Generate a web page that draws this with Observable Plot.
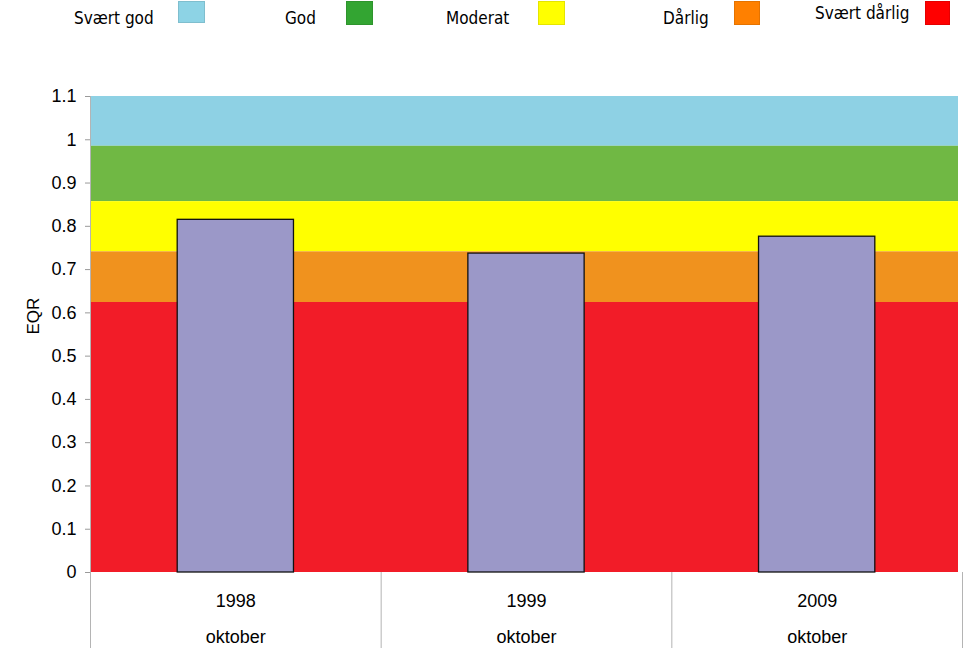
<!DOCTYPE html>
<html>
<head>
<meta charset="utf-8">
<script src="https://cdn.jsdelivr.net/npm/d3@7"></script>
<script src="https://cdn.jsdelivr.net/npm/@observablehq/plot@0.6"></script>
<style>
  html, body { margin: 0; padding: 0; background: #fff; }
  #wrap { position: relative; width: 978px; height: 668px; overflow: hidden; }
  #legend { position: relative; width: 978px; height: 40px; font-family: "Liberation Sans Narrow", "DejaVu Sans Condensed", sans-serif; font-size: 17px; color: #000; }
  #legend .lab { position: absolute; line-height: 1; white-space: nowrap; }
  #legend .sw { position: absolute; box-sizing: border-box; }
  svg { display: block; }
</style>
</head>
<body>
<div id="wrap">
  <div id="legend"></div>
  <div id="chart"></div>
</div>
<script>
// ---- data ----
const categories = ["1998", "1999", "2009"];
const months = ["oktober", "oktober", "oktober"];
const eqr = [0.815, 0.737, 0.776];

const classNames = ["Svært god", "God", "Moderat", "Dårlig", "Svært dårlig"];
const classUpper = [1.1, 0.985, 0.857, 0.741, 0.624];
const classLower = [0.985, 0.857, 0.741, 0.624, 0];

const yTicks = [0, 0.1, 0.2, 0.3, 0.4, 0.5, 0.6, 0.7, 0.8, 0.9, 1, 1.1];

// ---- styles ----
const bandColors = ["#8ed1e4", "#70b844", "#ffff00", "#f0921e", "#f21c28"];
const legendColors = ["#8dd3e5", "#33a532", "#ffff00", "#ff8000", "#ff0000"];
const legendLayout = [
  {tx: 74, ty: 10, sx: 178, sw: 27, sy: 1, sh: 22},
  {tx: 285, ty: 10, sx: 346, sw: 27, sy: 1, sh: 24},
  {tx: 446, ty: 10, sx: 538, sw: 27, sy: 1, sh: 24},
  {tx: 663, ty: 10, sx: 734, sw: 26, sy: 1, sh: 24},
  {tx: 815, ty: 5, sx: 925, sw: 25, sy: 1, sh: 24}
];

// legend
const legend = document.getElementById("legend");
classNames.forEach((name, i) => {
  const L = legendLayout[i];
  const t = document.createElement("span");
  t.className = "lab";
  t.textContent = name;
  t.style.left = L.tx + "px";
  t.style.top = L.ty + "px";
  legend.appendChild(t);
  const s = document.createElement("span");
  s.className = "sw";
  s.style.left = L.sx + "px";
  s.style.top = L.sy + "px";
  s.style.width = L.sw + "px";
  s.style.height = L.sh + "px";
  s.style.background = legendColors[i];
  s.style.border = "1px solid " + d3.color(legendColors[i]).darker(0.3);
  legend.appendChild(s);
});

const classes = classNames.map((name, i) => ({name, lo: classLower[i], hi: classUpper[i], color: bandColors[i]}));
const bars = categories.map((c, i) => ({cat: c, month: months[i], idx: i, v: eqr[i]}));
const bounds = d3.range(categories.length + 1);

const chart = Plot.plot({
  width: 978,
  height: 628,
  marginTop: 56,
  marginBottom: 96,
  marginLeft: 90,
  marginRight: 16,
  style: {fontFamily: "'Liberation Sans', Arial, sans-serif", fontSize: "18px", color: "#000", background: "#fff"},
  x: {domain: [0, categories.length], axis: null},
  y: {domain: [0, 1.1], ticks: yTicks, tickSize: 5, tickPadding: 9, tickFormat: d => String(+d.toFixed(1)), label: null},
  marks: [
    Plot.rectY(classes, {x1: 0, x2: categories.length, insetRight: 4, y1: "lo", y2: "hi", fill: "color"}),
    Plot.rectY(bars, {x1: d => d.idx + 0.3, x2: d => d.idx + 0.7, y1: 0, y2: "v", fill: "#9b98c8", stroke: "#111", strokeWidth: 1.3}),
    Plot.ruleX(bounds, {x: d => d, y1: 0, y2: 0, insetBottom: -76, stroke: "#b4b4b4", strokeWidth: 1}),
    Plot.ruleX([0], {y1: 0, y2: 1.1, stroke: "#b4b4b4", strokeWidth: 1}),
    Plot.text(bars, {x: d => d.idx + 0.5, frameAnchor: "bottom", lineAnchor: "middle", dy: 29, text: "cat", fontSize: 18}),
    Plot.text(bars, {x: d => d.idx + 0.5, frameAnchor: "bottom", lineAnchor: "middle", dy: 65, text: "month", fontSize: 18}),
    Plot.text(["EQR"], {frameAnchor: "left", dx: -57, rotate: -90, text: d => d, fontSize: 17})
  ]
});
document.getElementById("chart").appendChild(chart);
</script>
<style>
  [aria-label="y-axis tick"] path, [aria-label="y-axis"] line { stroke: #9a9a9a; }
</style>
</body>
</html>
